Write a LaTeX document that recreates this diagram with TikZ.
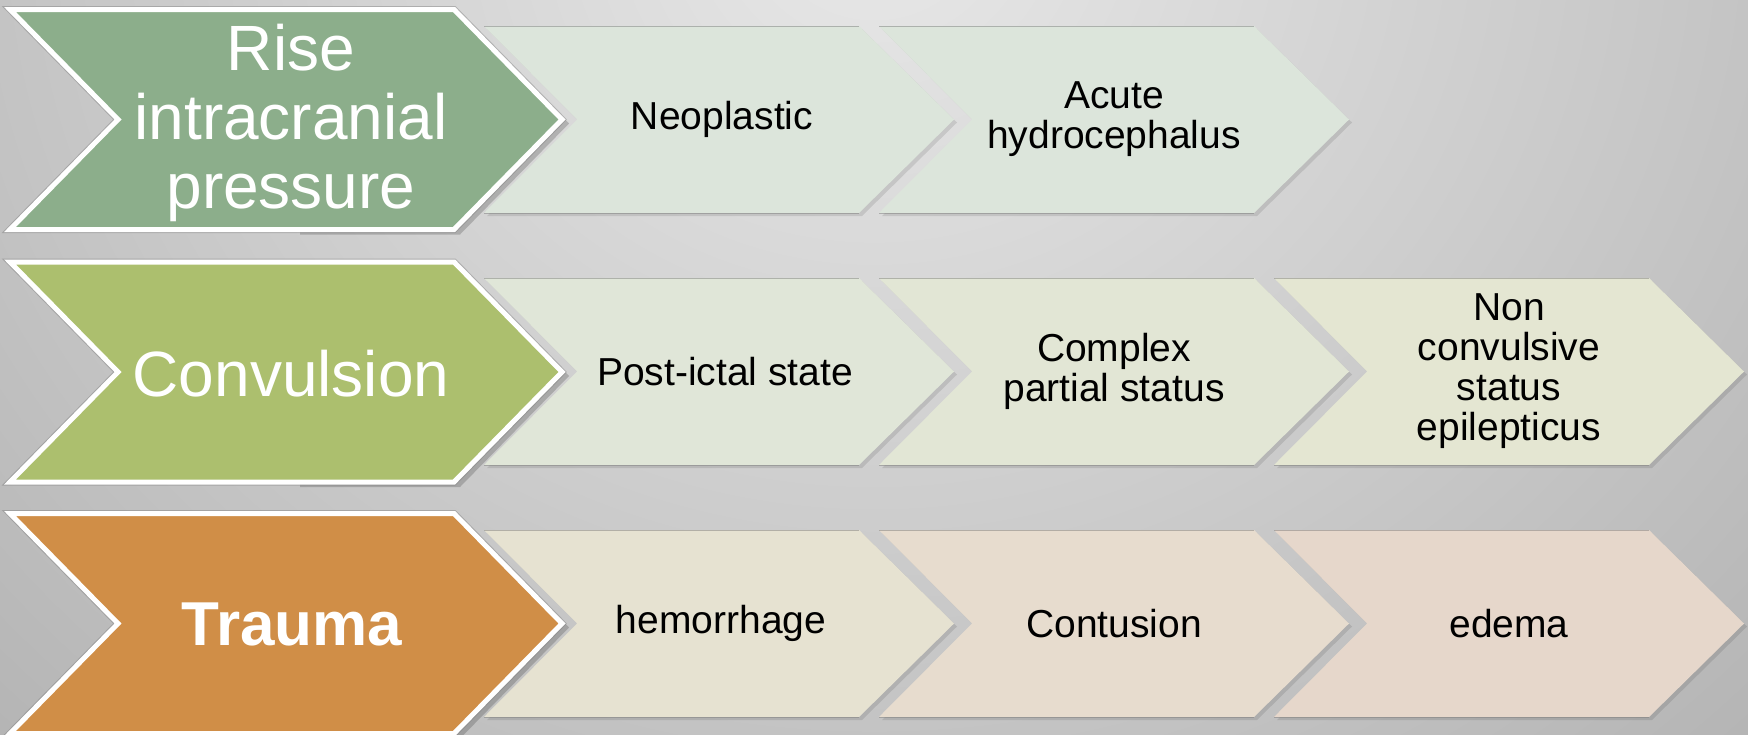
\documentclass[tikz,border=0pt]{standalone}
\usepackage{fontspec}
\setmainfont{Liberation Sans}
\definecolor{bgin}{HTML}{E8E8E8}
\definecolor{bgout}{HTML}{8E8E8E}
\definecolor{bigA}{HTML}{8CAE8B}
\definecolor{bigB}{HTML}{ACBF6E}
\definecolor{bigC}{HTML}{D08E47}
\definecolor{smA}{HTML}{DCE5DB}
\definecolor{smBa}{HTML}{E0E6D8}
\definecolor{smBb}{HTML}{E2E6D5}
\definecolor{smBc}{HTML}{E4E6D2}
\definecolor{smCa}{HTML}{E6E2D1}
\definecolor{smCb}{HTML}{E7DCCE}
\definecolor{smCc}{HTML}{E6D7CB}
\pgfdeclareradialshading{bgshade}{\pgfpoint{0bp}{0bp}}{color(0bp)=(bgin); color(25bp)=(bgout); color(50bp)=(bgout)}
\tikzset{
  smshadow/.style={fill=black,opacity=.10},
  smrim/.style={draw=black!55,opacity=.45,line width=.8pt},
  bigshadow/.style={fill=black,opacity=.18},
  bigrim/.style={draw=black!50,opacity=.45,line width=7pt,line join=miter},
  bigborder/.style={draw=white,line width=5pt,line join=miter},
  bigtxt/.style={text=white,align=center,inner sep=0pt,font=\fontsize{64}{69}\selectfont},
  bigbold/.style={text=white,align=center,inner sep=0pt,font=\bfseries\fontsize{62}{68}\selectfont},
  smtxt/.style={text=black,align=center,inner sep=0pt,font=\fontsize{39}{40}\selectfont}
}
\newcommand\smallchev[3]{%
  \begin{scope}[shift={(#1,#2)}]
    \fill[smshadow] (3,-90.5) -- (378,-90.5) -- (473,3) -- (378,96.5) -- (3,96.5) -- (96,3) -- cycle;
    \fill[#3] (0,-93.5) -- (375,-93.5) -- (470,0) -- (375,93.5) -- (0,93.5) -- (93,0) -- cycle;
    \draw[smrim] (0,-93.5) -- (375,-93.5);
    \draw[smrim] (0,93.5) -- (375,93.5);
  \end{scope}}
\newcommand\bigchev[2]{%
  \begin{scope}[shift={(0,#1)}]
    \fill[bigshadow] (460,-106) -- (569,4) -- (460,115) -- (300,115) -- (300,-106) -- cycle;
    \draw[bigrim] (10,-110) -- (454,-110) -- (562,0) -- (454,110) -- (10,110) -- (118,0) -- cycle;
    \filldraw[#2,bigborder] (10,-110) -- (454,-110) -- (562,0) -- (454,110) -- (10,110) -- (118,0) -- cycle;
  \end{scope}}
\begin{document}
\begin{tikzpicture}[x=1pt,y=-1pt]
\useasboundingbox (0,0) rectangle (1748,734);
\begin{scope}
  \clip (0,0) rectangle (1748,734);
  \fill[bgout] (0,0) rectangle (1748,734);
  \shade[shading=bgshade] (874,-80) ellipse (2200 and 2000);
  % row 1
  \smallchev{879}{119.5}{smA}
  \smallchev{484}{119.5}{smA}
  \bigchev{119.5}{bigA}
  % row 2
  \smallchev{1274}{371.5}{smBc}
  \smallchev{879}{371.5}{smBb}
  \smallchev{484}{371.5}{smBa}
  \bigchev{372}{bigB}
  % row 3
  \smallchev{1274}{623.5}{smCc}
  \smallchev{879}{623.5}{smCb}
  \smallchev{484}{623.5}{smCa}
  \bigchev{623.5}{bigC}
\end{scope}
% texts
\node[bigtxt] (r1) at (291,123) {Rise\\intracranial\\pressure};
\node[smtxt] (r1a) at (722,119.5) {Neoplastic};
\node[smtxt] (r1b) at (1114,119.5) {Acute\\hydrocephalus};
\node[bigtxt] (r2) at (291,374) {Convulsion};
\node[smtxt] (r2a) at (725,371.5) {Post-ictal state};
\node[smtxt] (r2b) at (1114,371.5) {Complex\\partial status};
\node[smtxt] (r2c) at (1509,371.5) {Non\\convulsive\\status\\epilepticus};
\node[bigbold] (r3) at (292,624) {Trauma};
\node[smtxt] (r3a) at (721,623.5) {hemorrhage};
\node[smtxt] (r3b) at (1114,623.5) {Contusion};
\node[smtxt] (r3c) at (1509,623.5) {edema};
\end{tikzpicture}
\end{document}
